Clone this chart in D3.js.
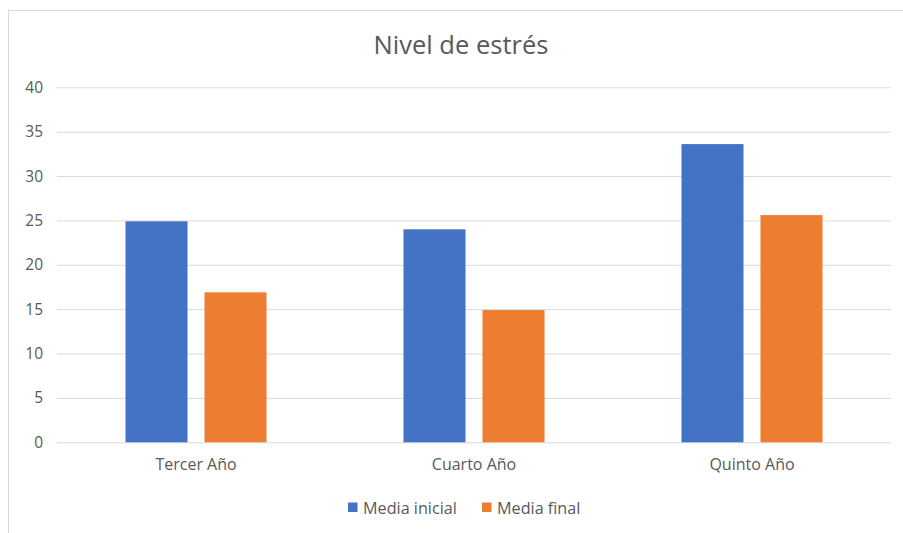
<!DOCTYPE html>
<html><head><meta charset="utf-8">
<script src="https://cdn.jsdelivr.net/npm/d3@7"></script>
<style>
body{margin:0;background:#fff;}
text{font-family:"Open Sans","Segoe UI",sans-serif;fill:#595959;}
</style></head>
<body><svg id="c" width="903" height="533"></svg>
<script>
const categories = ["Tercer Año", "Cuarto Año", "Quinto Año"];
const seriesNames = ["Media inicial", "Media final"];
const mediaInicial = [24.9, 24.0, 33.6];
const mediaFinal = [16.9, 14.9, 25.6];
const yTicks = [0, 5, 10, 15, 20, 25, 30, 35, 40];
const colors = ["#4472C4", "#ED7D31"];
const title = "Nivel de estrés";

const svg = d3.select("#c");
const W = 903, H = 533;
// chart frame
svg.append("rect").attr("x", 8.5).attr("y", 10.5).attr("width", W).attr("height", H)
  .attr("fill", "#fff").attr("stroke", "#d9d9d9");

const m = {left: 57, right: 891, top: 87.3, bottom: 442.3};
const y = d3.scaleLinear().domain([0, 40]).range([m.bottom, m.top]);
const x0 = d3.scaleBand().domain(categories).range([m.left, m.right]).padding(0);
const x1 = d3.scaleBand().domain(seriesNames).range([0, x0.bandwidth()])
  .paddingInner(0.215).paddingOuter(0.867);

// gridlines
const yAxis = d3.axisLeft(y).tickValues(yTicks).tickSize(-(m.right - m.left)).tickPadding(14);
const ga = svg.append("g").attr("transform", `translate(${m.left},0)`).call(yAxis);
ga.select(".domain").remove();
ga.selectAll(".tick line").attr("stroke", "#d9d9d9").attr("stroke-width", 1);
ga.selectAll(".tick text").attr("font-size", 15.5).attr("fill", "#595959");

const data = categories.map((c, i) => ({cat: c, vals: [mediaInicial[i], mediaFinal[i]]}));
const groups = svg.append("g").selectAll("g").data(data).join("g")
  .attr("transform", d => `translate(${x0(d.cat)},0)`);
groups.selectAll("rect").data(d => d.vals.map((v, j) => ({s: seriesNames[j], v, j})))
  .join("rect")
  .attr("x", d => x1(d.s)).attr("width", x1.bandwidth())
  .attr("y", d => y(d.v)).attr("height", d => y(0) - y(d.v))
  .attr("fill", d => colors[d.j]);

// x axis labels
const xAxis = d3.axisBottom(x0).tickSize(0).tickPadding(16);
const gx = svg.append("g").attr("transform", `translate(0,${m.bottom})`).call(xAxis);
gx.select(".domain").remove();
gx.selectAll(".tick text").attr("font-size", 16).attr("fill", "#595959");

// title
svg.append("text").attr("x", 461).attr("y", 53.5).attr("text-anchor", "middle")
  .attr("font-size", 25.5).attr("font-weight", 400).text(title);

// legend
const legend = svg.append("g");
const lx = [348, 482];
seriesNames.forEach((s, i) => {
  legend.append("rect").attr("x", lx[i]).attr("y", 502.5).attr("width", 9.5).attr("height", 9.5).attr("fill", colors[i]);
  legend.append("text").attr("x", lx[i] + 15).attr("y", 513.5).attr("font-size", 16.2).text(s);
});
</script></body></html>
